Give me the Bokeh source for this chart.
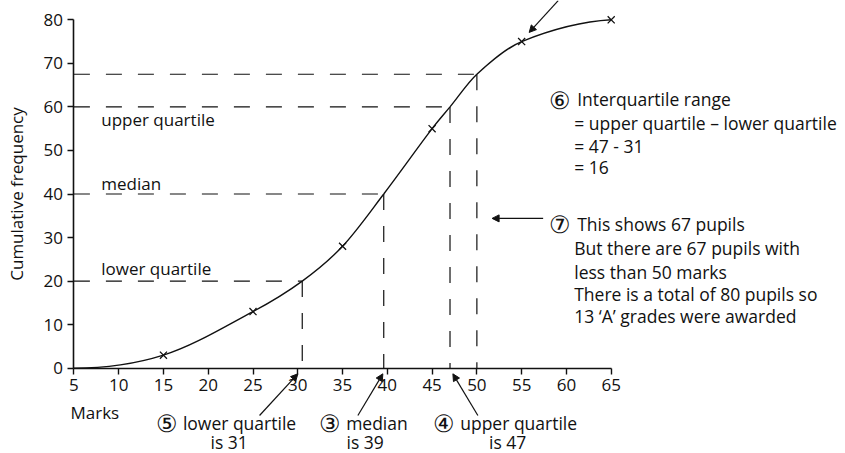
import numpy as np
from bokeh.plotting import figure
from bokeh.models import Range1d, Label, Arrow, NormalHead, FixedTicker
from bokeh.embed import file_html
from bokeh.resources import INLINE

# ---- data ----
marks = [5, 15, 25, 35, 45, 55, 65]
cum_freq = [0, 3, 13, 28, 55, 75, 80]
# values (lower quartile, median, upper quartile, 50 marks)
read_x = [30.5, 39.6, 47, 50]
read_y = [20, 40, 60, 67.5]
x_ticks = [5, 10, 15, 20, 25, 30, 35, 40, 45, 50, 55, 60, 65]
y_ticks = [0, 10, 20, 30, 40, 50, 60, 70, 80]

FONT = "Open Sans"
FS = "17px"
TS = "17.5px"
CS = "24px"
INK = "#111111"

W, H = 843, 453
PX_X, PX_Y = 8.955, 4.355
x0 = 5 - 73.4 / PX_X
y1 = 367.7 / PX_Y

p = figure(width=W, height=H,
           x_range=Range1d(x0, x0 + W / PX_X),
           y_range=Range1d(y1 - H / PX_Y, y1),
           output_backend="svg", toolbar_location=None,
           min_border=0, min_border_left=0, min_border_right=0,
           min_border_top=0, min_border_bottom=0)
p.outline_line_color = None
p.xgrid.visible = False
p.ygrid.visible = False

for ax in (p.xaxis[0], p.yaxis[0]):
    ax.axis_line_width = 1.6
    ax.axis_line_color = INK
    ax.major_tick_line_color = INK
    ax.major_tick_line_width = 1.4
    ax.major_tick_in = 0
    ax.major_tick_out = 6
    ax.minor_tick_line_color = None
    ax.major_label_text_font = FONT
    ax.major_label_text_font_size = FS
    ax.major_label_text_color = INK
    ax.major_label_standoff = 5

p.xaxis[0].ticker = FixedTicker(ticks=x_ticks)
p.xaxis[0].bounds = (5, 65)
p.xaxis[0].fixed_location = 0
p.yaxis[0].ticker = FixedTicker(ticks=y_ticks)
p.yaxis[0].bounds = (0, 80)
p.yaxis[0].fixed_location = 5
p.yaxis[0].axis_label = "Cumulative frequency"
p.yaxis[0].axis_label_text_font = FONT
p.yaxis[0].axis_label_text_font_size = FS
p.yaxis[0].axis_label_text_font_style = "normal"
p.yaxis[0].axis_label_text_color = INK
p.yaxis[0].axis_label_standoff = 12

# ---- smooth cumulative-frequency curve through the plotted and read points ----
pts = sorted(zip(marks + read_x, cum_freq + read_y))
kx = np.array([a for a, _ in pts], dtype=float)
ky = np.array([b for _, b in pts], dtype=float)
m = np.zeros_like(kx)
m[1:-1] = (ky[2:] - ky[:-2]) / (kx[2:] - kx[:-2])
m[0] = 0.0
m[-1] = 0.12
h = np.diff(kx)
p.bezier(x0=kx[:-1], y0=ky[:-1], x1=kx[1:], y1=ky[1:],
         cx0=kx[:-1] + h / 3, cy0=ky[:-1] + m[:-1] * h / 3,
         cx1=kx[1:] - h / 3, cy1=ky[1:] - m[1:] * h / 3,
         line_color=INK, line_width=1.4)

p.scatter(marks[1:], cum_freq[1:], marker="x", size=10,
          line_color=INK, line_width=1.3)

# ---- dashed read-off lines ----
p.segment(x0=[5] * len(read_y), y0=read_y, x1=read_x, y1=read_y,
          line_color=INK, line_width=1.2, line_dash="16 16")
p.segment(x0=read_x, y0=read_y, x1=read_x, y1=[0] * len(read_x),
          line_color=INK, line_width=1.2, line_dash="16 16")


def lab(x, y, text, align="left", size=TS):
    p.add_layout(Label(x=x, y=y, text=text, text_font=FONT, text_font_size=size,
                       text_color=INK, text_align=align, text_baseline="middle"))


def arrow(xs, ys, xe, ye):
    p.add_layout(Arrow(end=NormalHead(size=7, fill_color=INK, line_color=INK, line_width=1),
                       x_start=xs, y_start=ys, x_end=xe, y_end=ye,
                       line_color=INK, line_width=1.2))


# inline labels
lab(8.05, 57.1, "upper quartile", size=FS)
lab(8.05, 42.5, "median", size=FS)
lab(8.05, 22.8, "lower quartile", size=FS)
lab(4.62, -10.1, "Marks", size=FS)

# below-axis notes
L1, L2 = -12.5, -17.0
lab(14.2, L1, "⑤", size=CS)
lab(17.17, L1, "lower quartile")
lab(22.34, L2, "is 31", align="center")
lab(32.39, L1, "③", size=CS)
lab(35.4, L1, "median")
lab(37.53, L2, "is 39", align="center")
lab(45.09, L1, "④", size=CS)
lab(48.14, L1, "upper quartile")
lab(53.44, L2, "is 47", align="center")

arrow(25.73, -10.86, 30.01, -1.29)
arrow(36.71, -10.86, 39.5, -1.29)
arrow(50.11, -10.86, 47.32, -1.29)

# right-hand notes
lab(58.1, 61.7, "⑥", size=CS)
lab(61.2, 61.7, "Interquartile range")
lab(60.87, 56.2, "= upper quartile – lower quartile")
lab(60.87, 50.98, "= 47 - 31")
lab(60.87, 46.15, "= 16")

lab(58.1, 33.2, "⑦", size=CS)
lab(61.2, 33.2, "This shows 67 pupils")
lab(60.87, 27.7, "But there are 67 pupils with")
lab(60.87, 22.2, "less than 50 marks")
lab(60.87, 17.15, "There is a total of 80 pupils so")
lab(60.87, 12.1, "13 ‘A’ grades were awarded")

arrow(57.4, 34.4, 51.7, 34.4)
arrow(59.08, 84.4, 55.84, 77.1)

open("out.html", "w").write(file_html(p, INLINE))
